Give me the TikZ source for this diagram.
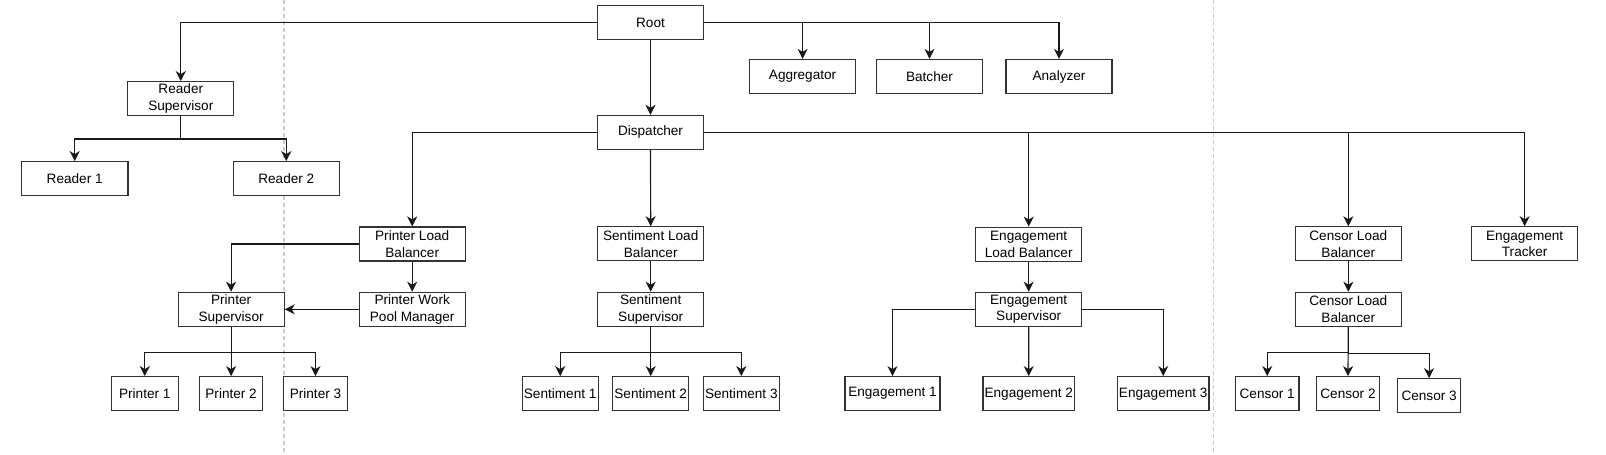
\documentclass[tikz,border=0pt]{standalone}
\usepackage{fontspec}
\setmainfont{Liberation Sans}
\usetikzlibrary{arrows.meta}
\tikzset{
  box/.style={draw=black!80, line width=1.2pt, minimum height=34pt, minimum width=106pt,
    inner sep=0pt, align=center, text=black, fill=white,
    font=\fontsize{13.6}{16.7}\selectfont},
  bw/.style={minimum width=#1},
  arr/.style={draw=black!90, line width=1.2pt, -{Stealth[length=10pt,width=10pt,inset=3pt]}},
  sep/.style={draw=black!20, line width=1.3pt, dash pattern=on 4pt off 3pt}
}
\begin{document}
\begin{tikzpicture}[x=1pt,y=-1pt]
\useasboundingbox (0,0) rectangle (1606,455);
% separators
\coordinate (sepA1) at (284.1,0);
\coordinate (sepA2) at (284.1,455);
\coordinate (sepB1) at (1213.5,0);
\coordinate (sepB2) at (1213.5,455);
\draw[sep] (sepA1) -- (sepA2);
\draw[sep] (sepB1) -- (sepB2);

% nodes
\node[box] (root) at (650.5,22.4) {Root};
\node[box] (rs) at (180.8,98.7) {Reader\\Supervisor};
\node[box,bw=106.7pt] (r1) at (74.7,178.7) {Reader 1};
\node[box] (r2) at (286.3,178.7) {Reader 2};
\node[box] (agg) at (802.6,76.5) {Aggregator};
\node[box] (bat) at (929.5,76.5) {Batcher};
\node[box] (ana) at (1059,76.5) {Analyzer};
\node[box] (disp) at (650.5,132.4) {Dispatcher};

\node[box] (plb) at (412.2,244) {Printer Load\\Balancer};
\node[box] (ps) at (231.1,309.3) {Printer\\Supervisor};
\node[box] (pwpm) at (412.2,309.3) {Printer Work\\Pool Manager};
\node[box,bw=67pt] (p1) at (144.8,393.7) {Printer 1};
\node[box,bw=63.4pt] (p2) at (231.1,393.7) {Printer 2};
\node[box,bw=63.4pt] (p3) at (315.5,393.7) {Printer 3};

\node[box] (slb) at (650.7,243.8) {Sentiment Load\\Balancer};
\node[box] (ss) at (650.7,309.3) {Sentiment\\Supervisor};
\node[box,bw=76pt] (s1) at (560.2,393.7) {Sentiment 1};
\node[box,bw=75.7pt] (s2) at (650.7,393.7) {Sentiment 2};
\node[box,bw=76pt] (s3) at (741.3,393.7) {Sentiment 3};

\node[box] (elb) at (1028.7,244.2) {Engagement\\Load Balancer};
\node[box] (es) at (1028.7,309.3) {Engagement\\Supervisor};
\node[box,bw=95pt] (e1) at (892.5,393.7) {Engagement 1};
\node[box,bw=91.7pt] (e2) at (1028.8,393.7) {Engagement 2};
\node[box,bw=91.7pt] (e3) at (1163.2,393.7) {Engagement 3};

\node[box] (clb) at (1348.3,243.8) {Censor Load\\Balancer};
\node[box] (clb2) at (1348.3,309.3) {Censor Load\\Balancer};
\node[box,bw=63.4pt] (c1) at (1267.2,393.7) {Censor 1};
\node[box,bw=63.4pt] (c2) at (1348,393.7) {Censor 2};
\node[box,bw=63.4pt] (c3) at (1429.1,395.8) {Censor 3};

\node[box] (et) at (1524.7,243.8) {Engagement\\Tracker};

% connectors
\draw[arr] (root.west) -| (rs.north);
\draw[arr] (root.east) -| (agg.north);
\draw[arr] (root.east) -| (bat.north);
\draw[arr] (root.east) -| (ana.north);
\draw[arr] (root) -- (disp);

\draw[arr] (rs.south) -- ++(0,22.6) -| (r1.north);
\draw[arr] (rs.south) -- ++(0,22.6) -| (r2.north);

\draw[arr] (disp.west) -| (plb.north);
\draw[arr] (disp) -- (slb);
\draw[arr] (disp.east) -| (elb.north);
\draw[arr] (disp.east) -| (clb.north);
\draw[arr] (disp.east) -| (et.north);

\draw[arr] (plb.west) -| (ps.north);
\draw[arr] (plb) -- (pwpm);
\draw[arr] (pwpm.west) -- (ps.east);
\draw[arr] (ps.south) -- ++(0,25.4) -| (p1.north);
\draw[arr] (ps) -- (p2);
\draw[arr] (ps.south) -- ++(0,25.4) -| (p3.north);

\draw[arr] (slb) -- (ss);
\draw[arr] (ss.south) -- ++(0,25.4) -| (s1.north);
\draw[arr] (ss) -- (s2);
\draw[arr] (ss.south) -- ++(0,25.4) -| (s3.north);

\draw[arr] (elb) -- (es);
\draw[arr] (es.west) -| (e1.north);
\draw[arr] (es) -- (e2);
\draw[arr] (es.east) -| (e3.north);

\draw[arr] (clb) -- (clb2);
\draw[arr] (clb2.south) -- ++(0,25.4) -| (c1.north);
\draw[arr] (clb2.south) -- (c2.north);
\draw[arr] (clb2.south) -- ++(0,26.4) -| (c3.north);
\end{tikzpicture}
\end{document}
